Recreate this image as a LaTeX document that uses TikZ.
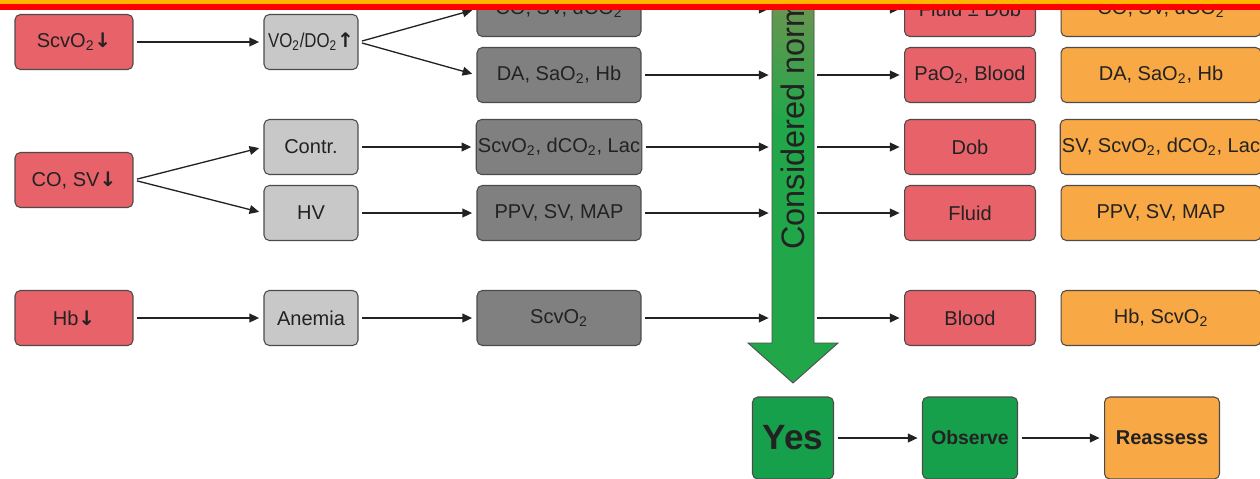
\documentclass[tikz,border=0pt]{standalone}
\usepackage{fontspec}
\setmainfont{Liberation Sans}
\newfontfamily\arrowfont{DejaVu Sans}
\usetikzlibrary{arrows.meta}
\definecolor{CaseRed}{HTML}{E8626A}
\definecolor{CaseLight}{HTML}{C8C8C8}
\definecolor{CaseDark}{HTML}{808080}
\definecolor{CaseOrange}{HTML}{F8A844}
\definecolor{CaseGreen}{HTML}{17A04B}
\definecolor{ArrowGreen}{HTML}{22A64A}
\definecolor{ArrowOlive}{HTML}{6F9450}
\definecolor{BoxLine}{HTML}{4E4A48}
\definecolor{InkDark}{HTML}{222222}
\definecolor{BandOrange}{HTML}{FFB400}
\definecolor{BandRed}{HTML}{FF0000}

\newcommand{\subtwo}{\textsubscript{2}}
\newcommand{\dnarrow}{{\arrowfont\bfseries ↓}}
\newcommand{\uparr}{{\arrowfont\bfseries ↑}}

\tikzset{
  box/.style={draw=BoxLine, line width=0.6pt, rounded corners=3pt, minimum height=1.1cm,
    inner sep=1pt, text=InkDark, font=\fontsize{11.4}{13}\selectfont},
  redbox/.style={box, fill=CaseRed, minimum width=2.36cm},
  lightbox/.style={box, fill=CaseLight, minimum width=1.88cm},
  darkbox/.style={box, fill=CaseDark, minimum width=3.28cm},
  treatbox/.style={box, fill=CaseRed, minimum width=2.62cm},
  checkbox/.style={box, fill=CaseOrange, minimum width=4cm},
  conn/.style={-{Triangle[length=5.5pt,width=5pt]}, line width=0.75pt, draw=InkDark,
    shorten <=2pt, shorten >=2.5pt}
}

\begin{document}
\begin{tikzpicture}[x=0.02cm, y=-0.02cm]
  \useasboundingbox (0,0) rectangle (1260,478);
  \clip (0,0) rectangle (1260,478);

  % Big arrow: considered normal
  \fill[ArrowGreen] (772,-5) -- (772,343) -- (748,343) -- (793,383) -- (838,343)
    -- (814,343) -- (814,-5) -- cycle;
  \shade[top color=ArrowOlive, bottom color=ArrowGreen] (772,-5) rectangle (814,120);
  \draw[line width=0.5pt, draw=InkDark!80] (772,-5) -- (772,343) -- (748,343) -- (793,383)
    -- (838,343) -- (814,343) -- (814,-5);
  \node[rotate=90, anchor=west, inner sep=0pt, text=InkDark,
    font=\fontsize{18.5}{20}\selectfont] (normq) at (793,250) {Considered norm};
  \coordinate (shaftW) at (773,0);
  \coordinate (shaftE) at (814,0);

  % Column 1: findings
  \node[redbox] (scvo) at (74,42) {ScvO\subtwo\dnarrow};
  \node[redbox] (cosv) at (74,180) {CO, SV\dnarrow};
  \node[redbox] (hb) at (74,318) {Hb\dnarrow};

  % Column 2: causes
  \node[lightbox, inner sep=0pt,
    font=\fontsize{11.4}{13}\selectfont\addfontfeature{FakeStretch=0.84}] (vodo) at (311,42)
    {VO\subtwo/DO\subtwo\uparr};
  \node[lightbox] (contr) at (311,147) {Contr.};
  \node[lightbox] (hv) at (311,213) {HV};
  \node[lightbox] (anemia) at (311,318) {Anemia};

  % Column 3: parameters
  \node[darkbox] (parA) at (559,9) {CO, SV, dCO\subtwo};
  \node[darkbox] (parB) at (559,75) {DA, SaO\subtwo, Hb};
  \node[darkbox] (parC) at (559,147) {ScvO\subtwo, dCO\subtwo, Lac};
  \node[darkbox] (parD) at (559,213) {PPV, SV, MAP};
  \node[darkbox] (parE) at (559,318) {ScvO\subtwo};

  % Column 5: treatment
  \node[treatbox] (trA) at (970,9) {Fluid ± Dob};
  \node[treatbox] (trB) at (970,75) {PaO\subtwo, Blood};
  \node[treatbox] (trC) at (970,147) {Dob};
  \node[treatbox] (trD) at (970,213) {Fluid};
  \node[treatbox] (trE) at (970,318) {Blood};

  % Column 6: re-check
  \node[checkbox] (chA) at (1161,9) {CO, SV, dCO\subtwo};
  \node[checkbox] (chB) at (1161,75) {DA, SaO\subtwo, Hb};
  \node[checkbox] (chC) at (1161,147) {SV, ScvO\subtwo, dCO\subtwo, Lac};
  \node[checkbox] (chD) at (1161,213) {PPV, SV, MAP};
  \node[checkbox] (chE) at (1161,318) {Hb, ScvO\subtwo};

  % Bottom row
  \node[box, fill=CaseGreen, minimum width=1.62cm, minimum height=1.64cm,
    font=\bfseries\fontsize{20}{24}\selectfont] (yes) at (793,438) {Yes};
  \node[box, fill=CaseGreen, minimum width=1.9cm, minimum height=1.64cm,
    font=\bfseries\fontsize{11}{13}\selectfont] (observe) at (970,438) {Observe};
  \node[box, fill=CaseOrange, minimum width=2.3cm, minimum height=1.64cm,
    font=\bfseries\fontsize{11.4}{13}\selectfont] (reassess) at (1162,438) {Reassess};

  % Connectors
  \draw[conn] (scvo) -- (vodo);
  \draw[conn] (vodo.east) -- (parA.west);
  \draw[conn] (vodo.east) -- (parB.west);
  \draw[conn] (cosv.east) -- (contr.west);
  \draw[conn] (cosv.east) -- (hv.west);
  \draw[conn] (contr) -- (parC);
  \draw[conn] (hv) -- (parD);
  \draw[conn] (hb) -- (anemia);
  \draw[conn] (anemia) -- (parE);
  \foreach \p/\t in {parA/trA, parB/trB, parC/trC, parD/trD, parE/trE} {
    \draw[conn] (\p.east) -- (\p.east -| shaftW);
    \draw[conn, shorten <=1.5pt] (\t.west -| shaftE) -- (\t.west);
  }
  \draw[conn] (yes) -- (observe);
  \draw[conn] (observe) -- (reassess);

  % Top band
  \fill[BandOrange] (0,0) rectangle (1260,4);
  \fill[BandRed] (0,4) rectangle (1260,9.5);
\end{tikzpicture}
\end{document}
